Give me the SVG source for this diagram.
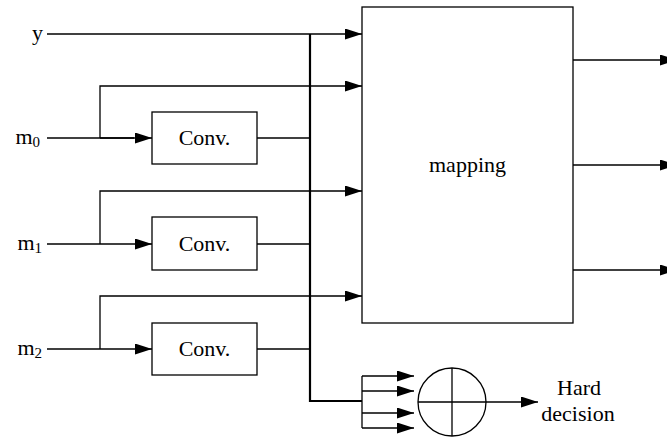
<svg xmlns="http://www.w3.org/2000/svg" width="667" height="437" viewBox="0 0 667 437">
<defs>
<marker id="ah" markerWidth="17" markerHeight="11" refX="17" refY="5.5" orient="auto" markerUnits="userSpaceOnUse">
<path d="M0,0 L17,5.5 L0,11 Z" fill="#000"/>
</marker>
<style>
.t{font-family:"Liberation Serif","Times New Roman",serif;font-size:22px;fill:#000}
.box{fill:#fff;stroke:#000;stroke-width:1.3}
.ln{fill:none;stroke:#000;stroke-width:1.3}
.bus{fill:none;stroke:#000;stroke-width:2.2}
.ar{marker-end:url(#ah)}
</style>
</defs>
<rect width="667" height="437" fill="#fff"/>
<g id="connectors">
<path class="ln ar" d="M47,34 H362"/>
<path class="ln" d="M47,138 H134"/>
<path class="ln ar" d="M100,138 H152"/>
<path class="ln ar" d="M100,138 V86 H362"/>
<path class="ln" d="M257,138 H310"/>
<path class="ln ar" d="M47,244 H152"/>
<path class="ln ar" d="M100,244 V191 H362"/>
<path class="ln" d="M257,244 H310"/>
<path class="ln ar" d="M47,349 H152"/>
<path class="ln ar" d="M100,349 V296 H362"/>
<path class="ln" d="M257,349 H310"/>
<path class="bus" d="M310,34 V401 H362"/>
<path class="ln" d="M362,376 V428"/>
<path class="ln ar" d="M362,376 H414"/>
<path class="ln ar" d="M362,391 H414"/>
<path class="ln ar" d="M362,413 H414"/>
<path class="ln ar" d="M362,428 H414"/>
<path class="ln ar" d="M486,402 H538"/>
<path class="ln ar" d="M573,60 H677"/>
<path class="ln ar" d="M573,165 H677"/>
<path class="ln ar" d="M573,270 H677"/>
</g>
<g id="label-y"><text class="t" x="43" y="40" text-anchor="end">y</text></g>
<g id="label-m0"><text class="t" x="40" y="144" text-anchor="end">m<tspan font-size="15" dy="3">0</tspan></text></g>
<g id="label-m1"><text class="t" x="42" y="250" text-anchor="end">m<tspan font-size="15" dy="3">1</tspan></text></g>
<g id="label-m2"><text class="t" x="42" y="355" text-anchor="end">m<tspan font-size="15" dy="3">2</tspan></text></g>
<g id="conv0"><rect class="box" x="152" y="112" width="105" height="52"/><text class="t" x="204.5" y="145" text-anchor="middle">Conv.</text></g>
<g id="conv1"><rect class="box" x="152" y="217" width="105" height="53"/><text class="t" x="204.5" y="251" text-anchor="middle">Conv.</text></g>
<g id="conv2"><rect class="box" x="152" y="323" width="105" height="52"/><text class="t" x="204.5" y="356" text-anchor="middle">Conv.</text></g>
<g id="mapping"><rect class="box" x="362" y="7" width="211" height="316"/><text class="t" x="467.5" y="172" text-anchor="middle">mapping</text></g>
<g id="combiner"><circle class="box" cx="452" cy="402" r="34"/><path class="ln" d="M418,402 H486 M452,368 V436"/></g>
<g id="hard-decision"><text class="t" x="579" y="395" text-anchor="middle">Hard</text><text class="t" x="578" y="421" text-anchor="middle">decision</text></g>
</svg>
